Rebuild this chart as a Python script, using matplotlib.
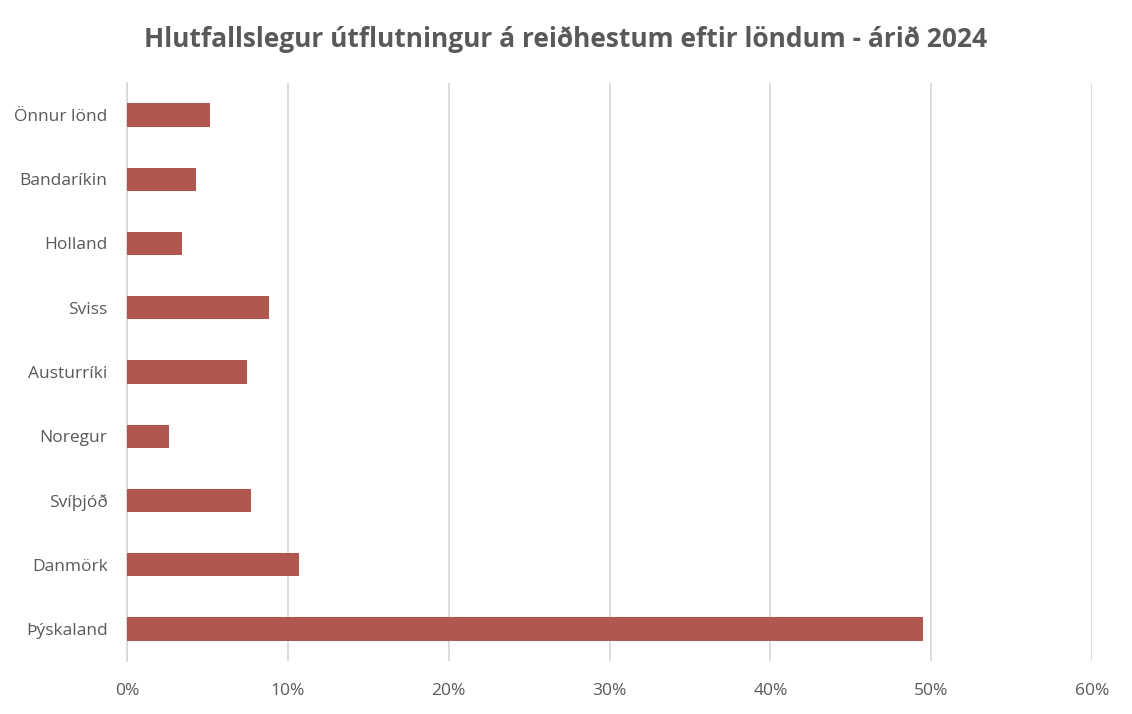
import matplotlib
matplotlib.use("Agg")
import matplotlib.pyplot as plt
from matplotlib.ticker import PercentFormatter

# data, top to bottom as in the chart
countries = ["Önnur lönd", "Bandaríkin", "Holland", "Sviss", "Austurríki",
             "Noregur", "Svíþjóð", "Danmörk", "Þýskaland"]
shares = [5.15, 4.3, 3.4, 8.8, 7.43, 2.63, 7.7, 10.7, 49.5]
x_ticks = [0, 10, 20, 30, 40, 50, 60]

TEXT_COLOR = "#595959"
BAR_COLOR = "#B0574F"

plt.rcParams["font.family"] = ["Open Sans", "DejaVu Sans"]

fig = plt.figure(figsize=(11.32, 7.14), dpi=100)
ax = fig.add_axes([0.1122, 0.074, 0.8525, 0.81])

ypos = list(range(len(countries)))[::-1]
ax.barh(ypos, shares, height=0.36, color=BAR_COLOR, zorder=3)

ax.set_xlim(0, 60)
ax.set_ylim(-0.5, len(countries) - 0.5)
ax.set_xticks(x_ticks)
ax.xaxis.set_major_formatter(PercentFormatter(decimals=0))
ax.set_yticks(ypos)
ax.set_yticklabels(countries)

ax.grid(True, axis="x", color="#D9D9D9", linewidth=1.3, zorder=0)
ax.set_axisbelow(True)
for s in ["top", "right", "bottom"]:
    ax.spines[s].set_visible(False)
ax.spines["left"].set_color("#D9D9D9")
ax.spines["left"].set_linewidth(1.3)
ax.tick_params(axis="both", length=0, labelsize=12.5, colors=TEXT_COLOR)
ax.tick_params(axis="x", pad=16)
ax.tick_params(axis="y", pad=14)

fig.text(0.5, 0.945, "Hlutfallslegur útflutningur á reiðhestum eftir löndum - árið 2024",
         ha="center", va="center", fontsize=19, fontweight="bold", color=TEXT_COLOR)

fig.savefig("out.png", dpi=100)
plt.close(fig)
